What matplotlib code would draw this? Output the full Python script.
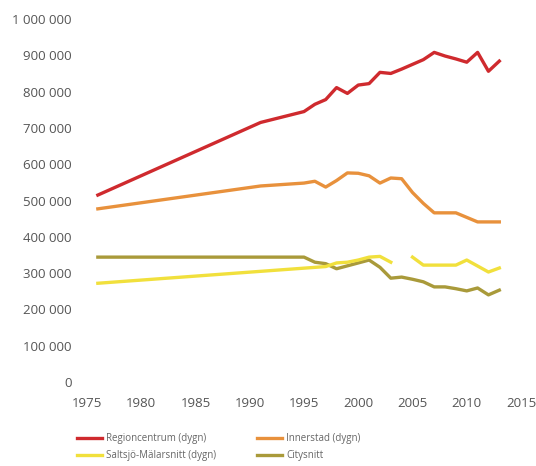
import numpy as np
import matplotlib.pyplot as plt
from matplotlib.ticker import FuncFormatter

plt.rcParams['font.family'] = ['Open Sans', 'DejaVu Sans']

# Regioncentrum (dygn)
red_years = [1976, 1991, 1995, 1996, 1997, 1998, 1999, 2000, 2001, 2002, 2003,
             2004, 2005, 2006, 2007, 2008, 2009, 2010, 2011, 2012, 2013]
red_vals = [515000, 715000, 745000, 765000, 778000, 811000, 795000, 818000, 822000,
            853000, 850000, 862000, 875000, 888000, 908000, 898000, 890000, 881000,
            908000, 856000, 884000]

# Innerstad (dygn)
orange_years = [1976, 1991, 1995, 1996, 1997, 1998, 1999, 2000, 2001, 2002, 2003,
                2004, 2005, 2006, 2007, 2009, 2011, 2013]
orange_vals = [477000, 540000, 548000, 553000, 537000, 555000, 576000, 575000, 568000,
               548000, 562000, 560000, 522000, 492000, 466000, 466000, 441000, 441000]

# Saltsjö-Mälarsnitt (dygn), no value for 2004
yellow_years = [1976, 1997, 1998, 1999, 2000, 2001, 2002, 2003, 2004,
                2005, 2006, 2009, 2010, 2012, 2013]
yellow_vals = [272000, 318000, 328000, 330000, 336000, 344000, 346000, 330000, np.nan,
               344000, 322000, 322000, 336000, 303000, 314000]

# Citysnitt
olive_years = [1976, 1995, 1996, 1997, 1998, 1999, 2000, 2001, 2002, 2003, 2004,
               2005, 2006, 2007, 2008, 2009, 2010, 2011, 2012, 2013]
olive_vals = [344000, 344000, 330000, 326000, 312000, 320000, 328000, 336000, 316000,
              286000, 289000, 283000, 276000, 262000, 262000, 257000, 251000, 259000,
              240000, 253000]

fig = plt.figure(figsize=(5.36, 4.66), dpi=100)
ax = fig.add_axes([87 / 536, 1 - 382 / 466, (521 - 87) / 536, (382 - 19) / 466])

lw = 2.4
l_red, = ax.plot(red_years, red_vals, color='#cf2a2e', lw=lw, label='Regioncentrum (dygn)')
l_or, = ax.plot(orange_years, orange_vals, color='#e8913c', lw=lw, label='Innerstad (dygn)')
l_ol, = ax.plot(olive_years, olive_vals, color='#a99a3a', lw=lw, label='Citysnitt')
l_ye, = ax.plot(yellow_years, yellow_vals, color='#f1e03c', lw=lw, label='Saltsjö-Mälarsnitt (dygn)')

ax.set_xlim(1975, 2015)
ax.set_ylim(0, 1000000)
ax.set_xticks(range(1975, 2016, 5))
ax.set_yticks(range(0, 1000001, 100000))
ax.yaxis.set_major_formatter(FuncFormatter(lambda v, p: f"{int(v):,}".replace(',', ' ')))
for s in ax.spines.values():
    s.set_visible(False)
ax.tick_params(length=0, labelsize=9.5, labelcolor='#555555')
ax.tick_params(axis='y', pad=11)
ax.tick_params(axis='x', pad=11)

fig.legend([l_red, l_ye, l_or, l_ol],
           ['Regioncentrum (dygn)', 'Saltsjö-Mälarsnitt (dygn)', 'Innerstad (dygn)', 'Citysnitt'],
           loc='upper left', bbox_to_anchor=(0.143, 0.07), ncol=2, frameon=False,
           fontsize=7, labelcolor='#666666', handlelength=2.6, handletextpad=0.4,
           columnspacing=4.2, labelspacing=0.6, borderaxespad=0, borderpad=0)

fig.savefig('out.png', dpi=100, facecolor='white')
